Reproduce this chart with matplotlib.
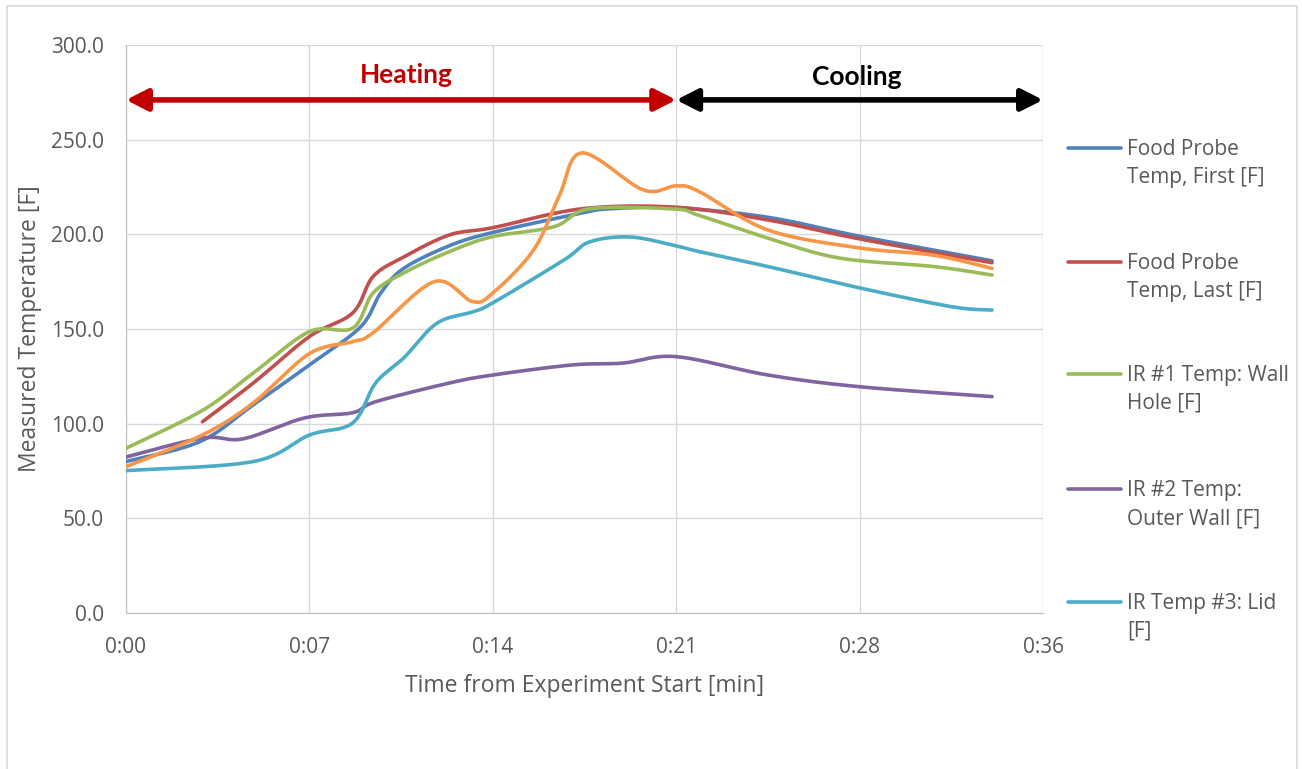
import numpy as np
import matplotlib
matplotlib.use("Agg")
import matplotlib.pyplot as plt
from matplotlib.patches import FancyArrowPatch, Rectangle
from matplotlib.lines import Line2D

plt.rcParams['font.family'] = ['Open Sans', 'DejaVu Sans']

# time in minutes, temperature in F
blue_t = [0, 2.9, 5.0, 7.2, 9.2, 10.0, 10.9, 12.7, 14.4, 17.8, 19.0, 21.6, 25.2, 28.8, 34.0]
blue_v = [80, 90.5, 110, 131, 151, 169, 182, 194, 201, 211, 213.5, 214, 209, 199, 186]

red_t = [3.0, 5.0, 7.2, 8.9, 9.7, 10.9, 12.7, 14.4, 17.9, 21.6, 25.2, 28.8, 34.0]
red_v = [101, 121.5, 146, 158.5, 177.7, 188, 199.7, 203.5, 213.5, 214.3, 207.6, 197.6, 185]

green_t = [0, 3.0, 5.0, 7.2, 8.9, 9.7, 10.9, 12.7, 14.4, 16.8, 18.2, 21.5, 22.5, 25.2, 28.0, 31.7, 34.0]
green_v = [87, 107, 126.8, 148.6, 150.5, 169, 179.6, 190.9, 198.8, 204, 213.5, 213.4, 210, 198, 187.5, 183, 178.5]

purple_t = [0, 3.0, 4.6, 7.0, 8.9, 9.8, 12.7, 14.4, 17.5, 19.5, 21.6, 25.2, 28.8, 34.0]
purple_v = [82.4, 92.4, 92, 103, 105.8, 111.6, 121.5, 125.7, 131, 132, 135.4, 125.7, 119.5, 114.3]

cyan_t = [0, 5.0, 7.2, 8.9, 9.8, 10.9, 12.2, 13.6, 14.4, 17.2, 18.2, 19.8, 21.6, 22.5, 25.2, 28.8, 32.4, 34.0]
cyan_v = [75.2, 80, 94, 100.4, 121.5, 134.7, 153, 159, 163.8, 186.5, 196, 198.6, 193.9, 190.9, 183, 171.7, 161.8, 160]

orange_t = [0, 3.0, 5.0, 7.2, 8.9, 9.7, 12.1, 13.6, 14.4, 16.0, 17.0, 17.9, 20.3, 21.6, 22.5, 25.2, 28.8, 31.7, 34.0]
orange_v = [77.3, 94, 111, 137, 143.3, 148, 175, 164.5, 169, 191.7, 220, 243, 223.5, 225.6, 222.6, 202.3, 192.8, 189, 182]

labels = [("Food Probe", "Temp, First [F]"), ("Food Probe", "Temp, Last [F]"),
          ("IR #1 Temp: Wall", "Hole [F]"), ("IR #2 Temp:", "Outer Wall [F]"),
          ("IR Temp #3: Lid", "[F]")]

x_ticks = [0, 7.2, 14.4, 21.6, 28.8, 36]
x_ticklabels = ["0:00", "0:07", "0:14", "0:21", "0:28", "0:36"]
y_ticks = [0, 50, 100, 150, 200, 250, 300]

heat_end = 21.6
arrow_y = 271


def smooth(t, v, n=24):
    # bezier smoothing through the points (catmull-rom style, like office charts)
    p = np.column_stack([t, v]).astype(float)
    pts = [p[0]]
    for i in range(len(p) - 1):
        p0 = p[i - 1] if i > 0 else p[i]
        p3 = p[i + 2] if i + 2 < len(p) else p[i + 1]
        c1 = p[i] + (p[i + 1] - p0) / 6
        c2 = p[i + 1] - (p3 - p[i]) / 6
        s = np.linspace(0, 1, n)[1:, None]
        seg = ((1 - s) ** 3) * p[i] + 3 * ((1 - s) ** 2) * s * c1 + 3 * (1 - s) * s ** 2 * c2 + s ** 3 * p[i + 1]
        pts.extend(seg)
    pts = np.array(pts)
    return pts[:, 0], pts[:, 1]


W, H = 1302, 769
fig = plt.figure(figsize=(W / 100, H / 100), dpi=100)
ax = fig.add_axes([126 / W, 1 - 613 / H, (1043 - 126) / W, (613 - 45) / H])

series = [
    (blue_t, blue_v, "#4F81BD"),
    (red_t, red_v, "#C0504D"),
    (green_t, green_v, "#9BBB59"),
    (purple_t, purple_v, "#8064A2"),
    (cyan_t, cyan_v, "#4BACC6"),
    (orange_t, orange_v, "#F79646"),
]
for t, v, c in series:
    xs, ys = smooth(t, v)
    ax.plot(xs, ys, color=c, lw=2.6, solid_capstyle="round", zorder=3)

ax.set_xlim(0, 36)
ax.set_ylim(0, 300)
ax.set_xticks(x_ticks)
ax.set_xticklabels(x_ticklabels)
ax.set_yticks(y_ticks)
ax.set_yticklabels(["%.1f" % y for y in y_ticks])
ax.grid(True, color="#D9D9D9", lw=1)
ax.set_axisbelow(True)
for s in ["top", "right"]:
    ax.spines[s].set_visible(False)
for s in ["left", "bottom"]:
    ax.spines[s].set_color("#BFBFBF")
ax.tick_params(length=0, labelsize=15, labelcolor="#595959")
ax.tick_params(axis="y", pad=16)
ax.tick_params(axis="x", pad=17)
ax.set_xlabel("Time from Experiment Start [min]", fontsize=16.5, color="#595959", labelpad=12)
ax.set_ylabel("Measured Temperature [F]", fontsize=16.5, color="#595959", labelpad=6)

# heating / cooling arrows
style = "<|-|>,head_length=0.65,head_width=0.33"
ax.add_patch(FancyArrowPatch((0, arrow_y), (heat_end, arrow_y), arrowstyle=style, mutation_scale=20,
                             color="#C00000", lw=4, shrinkA=0, shrinkB=0, clip_on=False, zorder=4))
ax.add_patch(FancyArrowPatch((heat_end, arrow_y), (36, arrow_y), arrowstyle=style, mutation_scale=20,
                             color="black", lw=4, shrinkA=0, shrinkB=0, clip_on=False, zorder=4))
ax.text(11.0, 284, "Heating", color="#C00000", fontsize=19, fontweight="bold", family="Lato", ha="center", va="center")
ax.text(28.7, 283, "Cooling", color="black", fontsize=19, fontweight="bold", family="Lato", ha="center", va="center")

# legend drawn by hand so the line sits on the first text line
colors = [c for _, _, c in series[:5]]
leg_y = [148, 262, 374, 489, 602]
for (l1, l2), c, y in zip(labels, colors, leg_y):
    fig.add_artist(Line2D([1068 / W, 1121 / W], [1 - y / H, 1 - y / H], color=c, lw=2.6, solid_capstyle="round"))
    fig.text(1127 / W, 1 - (y + 7) / H, l1, fontsize=15, color="#595959", va="baseline", ha="left")
    fig.text(1127 / W, 1 - (y + 35) / H, l2, fontsize=15, color="#595959", va="baseline", ha="left")

# chart frame
fig.add_artist(Rectangle((7 / W, -0.05), (1297 - 7) / W, 1.05 - 6 / H, fill=False, ec="#D9D9D9", lw=1.2,
                         transform=fig.transFigure))

fig.savefig("out.png", dpi=100, facecolor="white")
